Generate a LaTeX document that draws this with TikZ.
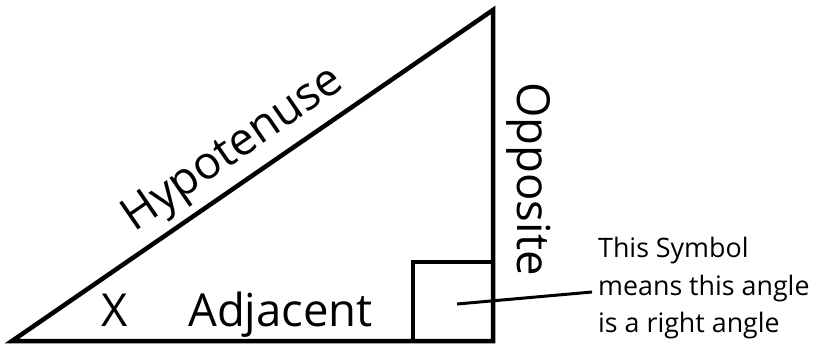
\documentclass[tikz,border=0pt]{standalone}
\usepackage{fontspec}
\setmainfont{Open Sans}
\usetikzlibrary{calc}
\begin{document}
\begin{tikzpicture}[x=1pt,y=1pt,
  side/.style={line width=4.5pt,line join=miter},
  sq/.style={line width=4pt},
  ptrline/.style={line width=3pt},
  big/.style={font=\fontsize{45.5}{50}\selectfont,inner sep=0pt},
  small/.style={font=\fontsize{26.8}{34}\selectfont,inner sep=0pt,anchor=base west}]
\useasboundingbox (0,0) rectangle (816,-346);
\coordinate (A) at (12,-341);
\coordinate (B) at (493,-341);
\coordinate (C) at (493,-10);
\draw[side] (A) -- (B) -- (C) -- cycle;
\coordinate (S1) at (413,-341);
\coordinate (S2) at (413,-262);
\coordinate (S3) at (493,-262);
\draw[sq] (S1) -- (S2) -- (S3);
\node[big,anchor=base west] (x) at (101,-326) {X};
\node[big,anchor=base west] (adj) at (188,-326) {Adjacent};
\node[big,anchor=base west,rotate=-90] (opp) at (517,-82) {Opposite};
\node[big,anchor=base,rotate=34.6] (hyp) at (240,-160) {Hypotenuse};
\node[small] (n1) at (598,-257) {This Symbol};
\node[small] (n2) at (598,-295) {means this angle};
\node[small] (n3) at (598,-332) {is a right angle};
\coordinate (p1) at (457,-304);
\coordinate (p2) at (592,-292);
\draw[ptrline] (p1) -- (p2);
\end{tikzpicture}
\end{document}
